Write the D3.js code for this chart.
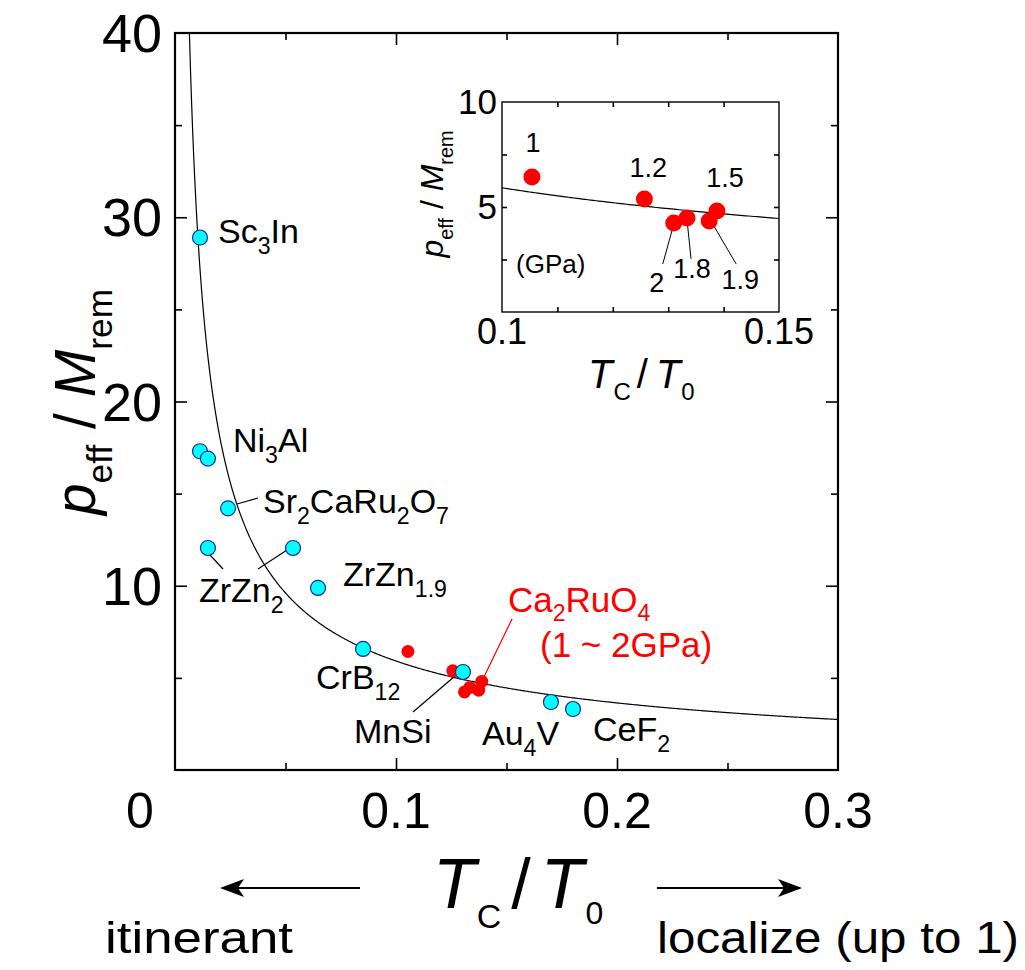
<!DOCTYPE html>
<html>
<head>
<meta charset="utf-8">
<script src="https://cdn.jsdelivr.net/npm/d3@7"></script>
<style>
  body { margin: 0; background: #fff; }
  text { font-family: "Liberation Sans", Arial, sans-serif; }
</style>
</head>
<body>
<div id="chart"></div>
<script>
// compounds (cyan points)
const compounds = ["Sc3In", "Ni3Al", "Ni3Al", "Sr2CaRu2O7", "ZrZn2", "ZrZn2", "ZrZn1.9", "CrB12", "MnSi", "Au4V", "CeF2"];
const compTcT0 = [0.0113, 0.0113, 0.0149, 0.0240, 0.0149, 0.0534, 0.0647, 0.0851, 0.1303, 0.1701, 0.1801];
const compRatio = [28.9, 17.3, 16.9, 14.2, 12.05, 12.05, 9.88, 6.57, 5.32, 3.69, 3.31];

// Ca2RuO4 under pressure (red points)
const pressure = ["1", "1.2", "1.5", "1.8", "1.9", "2"];
const caTcT0 = [0.1054, 0.1257, 0.1388, 0.1334, 0.1374, 0.1310];
const caRatio = [6.43, 5.38, 4.81, 4.48, 4.33, 4.24];

// theoretical curve  p_eff/M_rem = A * (Tc/T0)^B
const curveA = 1.18, curveB = -0.7;

const xTicksMain = [0, 0.1, 0.2, 0.3];
const yTicksMain = [10, 20, 30, 40];
const xTicksInset = [0.1, 0.15];
const yTicksInset = [5, 10];

const width = 1025, height = 970;
const svg = d3.select("#chart").append("svg")
    .attr("width", width)
    .attr("height", height);

const x = d3.scaleLinear().domain([0, 0.3]).range([175, 838]);
const y = d3.scaleLinear().domain([0, 40]).range([770, 33]);

const curveFn = t => curveA * Math.pow(t, curveB);

// rich text helper: parts = [text, "sub"|"it"|null]
function rich(g, px, py, parts, size, color, anchor, subRatio, subShift) {
    const sr = subRatio || 0.68, ss = subShift || 0.32;
    const t = g.append("text")
        .attr("x", px).attr("y", py)
        .attr("font-size", size)
        .attr("fill", color || "#000")
        .attr("text-anchor", anchor || "start");
    let shifted = 0;
    parts.forEach(function (p) {
        const s = t.append("tspan").text(p[0]);
        const type = p[1];
        if (type === "sub") {
            const d = size * ss;
            s.attr("font-size", size * sr).attr("dy", d - shifted);
            shifted = d;
        } else {
            s.attr("dy", -shifted);
            shifted = 0;
            if (type === "it") s.attr("font-style", "italic");
        }
    });
    return t;
}

function drawTicks(g, sx, sy, xMajor, xMinor, yMajor, yMinor, big, small) {
    const [x0, x1] = sx.range();
    const [y0, y1] = sy.range();
    const list = [
        [d3.axisBottom(sx), "translate(0," + y0 + ")", xMajor, big],
        [d3.axisBottom(sx), "translate(0," + y0 + ")", xMinor, small],
        [d3.axisTop(sx), "translate(0," + y1 + ")", xMajor, big],
        [d3.axisTop(sx), "translate(0," + y1 + ")", xMinor, small],
        [d3.axisLeft(sy), "translate(" + x0 + ",0)", yMajor, big],
        [d3.axisLeft(sy), "translate(" + x0 + ",0)", yMinor, small],
        [d3.axisRight(sy), "translate(" + x1 + ",0)", yMajor, big],
        [d3.axisRight(sy), "translate(" + x1 + ",0)", yMinor, small]
    ];
    list.forEach(function (l) {
        const a = g.append("g").attr("transform", l[1])
            .call(l[0].tickValues(l[2]).tickSize(-l[3]).tickFormat(""));
        a.select(".domain").remove();
        a.selectAll("line").attr("stroke", "#000").attr("stroke-width", 1.6);
    });
}

// ---------- main plot ----------
const main = svg.append("g");

svg.append("clipPath").attr("id", "clipMain")
    .append("rect").attr("x", 175).attr("y", 33).attr("width", 663).attr("height", 737);

drawTicks(main, x, y, [0.1, 0.2], [0.05, 0.15, 0.25], [10, 20, 30], [5, 15, 25, 35], 12, 7);

const curveData = d3.range(0.005, 0.3001, 0.0005);
const line = d3.line().x(d => x(d)).y(d => y(curveFn(d)));
main.append("path")
    .datum(curveData)
    .attr("clip-path", "url(#clipMain)")
    .attr("fill", "none")
    .attr("stroke", "#000")
    .attr("stroke-width", 1.2)
    .attr("d", line);

main.append("rect")
    .attr("x", 175).attr("y", 33).attr("width", 663).attr("height", 737)
    .attr("fill", "none").attr("stroke", "#000").attr("stroke-width", 2.2);

// tick labels
main.selectAll(".xl").data(xTicksMain).enter().append("text")
    .attr("x", d => x(d) + (d === 0 ? -35 : 0))
    .attr("y", 828)
    .attr("text-anchor", "middle")
    .attr("font-size", 50)
    .text(d => d === 0 ? "0" : d3.format(".1f")(d));

main.selectAll(".yl").data(yTicksMain).enter().append("text")
    .attr("x", 162)
    .attr("y", d => y(d) + 19)
    .attr("text-anchor", "end")
    .attr("font-size", 54)
    .text(d => d);

// leader lines
const leaders = [
    [237, 504, 258, 498],
    [210, 555, 223, 569],
    [258, 569, 287, 550],
    [413, 712, 455, 676]
];
main.selectAll(".ld").data(leaders).enter().append("line")
    .attr("x1", d => d[0]).attr("y1", d => d[1])
    .attr("x2", d => d[2]).attr("y2", d => d[3])
    .attr("stroke", "#000").attr("stroke-width", 1.2);
main.append("line")
    .attr("x1", 512).attr("y1", 619).attr("x2", 482).attr("y2", 681)
    .attr("stroke", "#ff0000").attr("stroke-width", 1.2);

// red points (main)
main.selectAll(".rp").data(caTcT0).enter().append("circle")
    .attr("cx", d => x(d))
    .attr("cy", (d, i) => y(caRatio[i]))
    .attr("r", 6.5)
    .attr("fill", "#ff0000");

// cyan points
main.selectAll(".cp").data(compTcT0).enter().append("circle")
    .attr("cx", d => x(d))
    .attr("cy", (d, i) => y(compRatio[i]))
    .attr("r", 7.5)
    .attr("fill", "#00ffff")
    .attr("stroke", "#1a2a9a")
    .attr("stroke-width", 1.2);

// compound labels
const LS = 34;
rich(main, 218, 243, [["Sc"], ["3", "sub"], ["In"]], LS);
rich(main, 233, 452, [["Ni"], ["3", "sub"], ["Al"]], LS);
rich(main, 263, 513, [["Sr"], ["2", "sub"], ["CaRu"], ["2", "sub"], ["O"], ["7", "sub"]], LS);
rich(main, 199, 602, [["ZrZn"], ["2", "sub"]], LS);
rich(main, 343, 586, [["ZrZn"], ["1.9", "sub"]], LS);
rich(main, 316, 689, [["CrB"], ["12", "sub"]], LS);
rich(main, 354, 743, [["MnSi"]], LS);
rich(main, 482, 745, [["Au"], ["4", "sub"], ["V"]], LS);
rich(main, 593, 741, [["CeF"], ["2", "sub"]], LS);
rich(main, 508, 612, [["Ca"], ["2", "sub"], ["RuO"], ["4", "sub"]], 35, "#ff0000", "start", 0.66, 0.26);
rich(main, 540, 657, [["(1 ~ 2GPa)"]], 35, "#ff0000");

// y axis title
const yt = rich(main, 0, 0, [["p", "it"], ["eff", "sub"], [" / "], ["M", "it"], ["rem", "sub"]], 57, "#000", "middle", 0.62, 0.3);
yt.attr("transform", "translate(95,402) rotate(-90)");

// x axis title + arrows
const xt = svg.append("text").attr("x", 433).attr("y", 908).attr("font-size", 70);
xt.append("tspan").attr("font-style", "italic").text("T");
xt.append("tspan").attr("font-size", 34).attr("dy", 20).attr("dx", 1).text("C");
xt.append("tspan").attr("dy", -20).attr("dx", 10).text("/");
xt.append("tspan").attr("font-style", "italic").attr("dx", 10).text("T");
xt.append("tspan").attr("font-size", 32).attr("dy", 16).attr("dx", 2).text("0");

const defs = svg.append("defs");
defs.append("marker").attr("id", "ah")
    .attr("viewBox", "0 0 24 18").attr("refX", 22).attr("refY", 9)
    .attr("markerWidth", 24).attr("markerHeight", 18).attr("markerUnits", "userSpaceOnUse")
    .attr("orient", "auto")
    .append("path").attr("d", "M0,0 L24,9 L0,18 L6,9 Z").attr("fill", "#000");
const arrows = [[360, 222], [657, 800]];
svg.selectAll(".arr").data(arrows).enter().append("line")
    .attr("x1", d => d[0]).attr("x2", d => d[1])
    .attr("y1", 888).attr("y2", 888)
    .attr("stroke", "#000").attr("stroke-width", 1.8)
    .attr("marker-end", "url(#ah)");

svg.append("text").attr("x", 105).attr("y", 953)
    .attr("font-size", 44)
    .attr("textLength", 188).attr("lengthAdjust", "spacingAndGlyphs")
    .text("itinerant");
svg.append("text").attr("x", 657).attr("y", 953)
    .attr("font-size", 44)
    .attr("textLength", 362).attr("lengthAdjust", "spacingAndGlyphs")
    .text("localize (up to 1)");

// ---------- inset ----------
const xi = d3.scaleLinear().domain([0.1, 0.15]).range([502, 779]);
const yi = d3.scaleLinear().domain([0, 10]).range([312, 102]);
const inset = svg.append("g");

svg.append("clipPath").attr("id", "clipInset")
    .append("rect").attr("x", 502).attr("y", 102).attr("width", 277).attr("height", 210);

drawTicks(inset, xi, yi, [0.11, 0.12, 0.13, 0.14], [], [2.5, 5, 7.5], [], 5, 0);

inset.append("path")
    .datum(d3.range(0.1, 0.1501, 0.0005))
    .attr("clip-path", "url(#clipInset)")
    .attr("fill", "none").attr("stroke", "#000").attr("stroke-width", 1.2)
    .attr("d", d3.line().x(d => xi(d)).y(d => yi(curveFn(d))));

inset.append("rect")
    .attr("x", 502).attr("y", 102).attr("width", 277).attr("height", 210)
    .attr("fill", "none").attr("stroke", "#000").attr("stroke-width", 1.4);

// inset leader lines: [dx1, dy1, dx2, dy2] relative to point
const insetLeaders = { "2": [-11, 41, -1, 5], "1.8": [4, 41, 0, 2], "1.9": [27, 43, 3, 2] };
pressure.forEach(function (p, i) {
    const l = insetLeaders[p];
    if (!l) return;
    const px = xi(caTcT0[i]), py = yi(caRatio[i]);
    inset.append("line")
        .attr("x1", px + l[0]).attr("y1", py + l[1])
        .attr("x2", px + l[2]).attr("y2", py + l[3])
        .attr("stroke", "#000").attr("stroke-width", 1);
});

inset.selectAll(".ip").data(caTcT0).enter().append("circle")
    .attr("cx", d => xi(d))
    .attr("cy", (d, i) => yi(caRatio[i]))
    .attr("r", 8.5)
    .attr("fill", "#ff0000");

const insetLabelOff = { "1": [1, -25], "1.2": [4, -22], "1.5": [8, -24], "2": [-17, 69], "1.8": [5, 60], "1.9": [31, 68] };
pressure.forEach(function (p, i) {
    const o = insetLabelOff[p];
    inset.append("text")
        .attr("x", xi(caTcT0[i]) + o[0])
        .attr("y", yi(caRatio[i]) + o[1])
        .attr("text-anchor", "middle")
        .attr("font-size", 27)
        .text(p);
});
inset.append("text").attr("x", 516).attr("y", 273).attr("font-size", 26).text("(GPa)");

inset.selectAll(".ixl").data(xTicksInset).enter().append("text")
    .attr("x", d => xi(d)).attr("y", 344)
    .attr("text-anchor", "middle").attr("font-size", 36)
    .text(d => d);
inset.selectAll(".iyl").data(yTicksInset).enter().append("text")
    .attr("x", 497).attr("y", d => yi(d) + 12)
    .attr("text-anchor", "end").attr("font-size", 35)
    .text(d => d);

const iyt = rich(inset, 0, 0, [["p", "it"], ["eff", "sub"], [" / "], ["M", "it"], ["rem", "sub"]], 32, "#000", "middle", 0.62, 0.3);
iyt.attr("transform", "translate(443,194) rotate(-90)");

const ixt = inset.append("text").attr("x", 588).attr("y", 388).attr("font-size", 40);
ixt.append("tspan").attr("font-style", "italic").text("T");
ixt.append("tspan").attr("font-size", 24).attr("dy", 12).attr("dx", 1).text("C");
ixt.append("tspan").attr("dy", -12).attr("dx", 6).text("/");
ixt.append("tspan").attr("font-style", "italic").attr("dx", 8).text("T");
ixt.append("tspan").attr("font-size", 24).attr("dy", 12).attr("dx", 1).text("0");
</script>
</body>
</html>
